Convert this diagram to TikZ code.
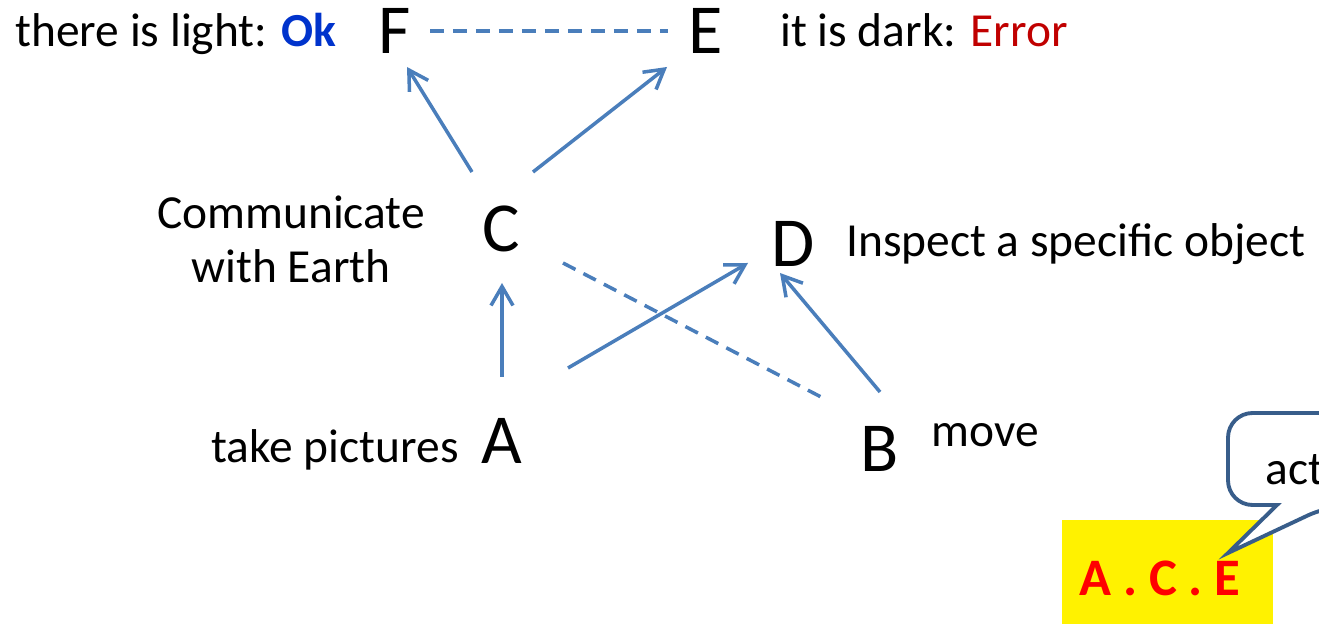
\documentclass[tikz,border=0pt]{standalone}
\usepackage{fontspec}
\setmainfont{Carlito}
\usepackage{tikz}
\usetikzlibrary{calc}
\usetikzlibrary{arrows.meta}

\definecolor{linkblue}{HTML}{4A7EBB}
\definecolor{okblue}{HTML}{0033CC}
\definecolor{errred}{HTML}{C00000}
\definecolor{balloon}{HTML}{385D8A}

\begin{document}
\begin{tikzpicture}[x=0.02cm,y=-0.02cm,
    letter/.style={font=\fontsize{40}{48}\selectfont, inner sep=0pt},
    task/.style={font=\fontsize{27}{31.3}\selectfont, inner sep=0pt},
    link/.style={draw=linkblue, line width=2pt, -{Straight Barb[length=0.38cm,width=0.44cm]}},
    dashlink/.style={draw=linkblue, line width=2pt, dash pattern=on 0.28cm off 0.18cm}]
    \useasboundingbox (0,0) rectangle (1319,624);
    \clip (0,0) rectangle (1319,624);

    % Draw the goals
    \node[letter] (F) at (395,31) {F};
    \node[letter] (E) at (706,31) {E};
    \node[letter] (C) at (501,229) {C};
    \node[letter] (D) at (793,244) {D};
    \node[letter] (A) at (502,441) {A};
    \node[letter] (B) at (880,449) {B};

    % Draw what each goal means
    \node[task, anchor=base west] (light) at (15,47) {there is light: \textbf{\color{okblue}Ok}};
    \node[task, anchor=base west] (dark) at (780,47) {it is dark: \color{errred}Error};
    \node[task, anchor=base, align=center] (talk) at (291,283) {Communicate\\with Earth};
    \node[task, anchor=base west] (inspect) at (846,257) {Inspect a specific object};
    \node[task, anchor=base east] (pics) at (459,463) {take pictures};
    \node[task, anchor=base west] (move) at (931,447) {move};

    % Draw the links between goals
    \draw[link] ($(C)+(-29,-57)$) -- ($(F)+(12,36)$);
    \draw[link] ($(C)+(32,-57)$) -- ($(E)+(-39,36)$);
    \draw[link] ($(A)+(0,-64)$) -- ($(C)+(1,54)$);
    \draw[link] ($(A)+(66,-73)$) -- ($(D)+(-45,19)$);
    \draw[link] ($(B)+(0,-57)$) -- ($(D)+(-13,29)$);
    \draw[dashlink] ($(F)+(35,0)$) -- ($(E)+(-38,0)$);
    \draw[dashlink] ($(C)+(62,34)$) -- ($(B)+(-57,-51)$);

    % Draw the plan and its balloon
    \fill[yellow] (1062,520) rectangle (1273,640);
    \node[font=\fontsize{30}{36}\selectfont\bfseries, text=red] (plan) at (1160,578) {A . C . E};
    \coordinate (tip) at (1228,553);
    \draw[balloon, fill=white, line width=2.2pt] (1277,505) [rounded corners=14] -- (1228,505) -- (1228,413)
        -- (1480,413) -- (1480,505) -- (1330,505) [sharp corners] -- (tip) -- cycle;
    \node[task, anchor=base west] (act) at (1265,485) {action};
\end{tikzpicture}
\end{document}
